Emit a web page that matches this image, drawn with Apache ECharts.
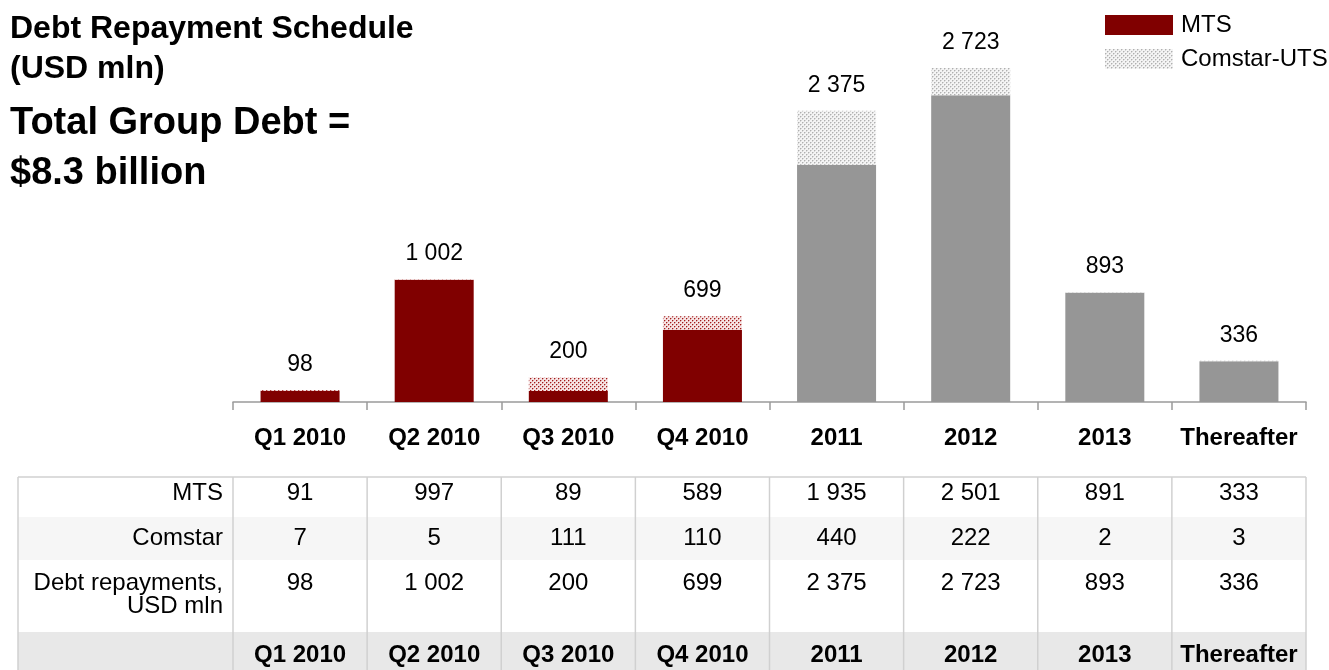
<!DOCTYPE html>
<html>
<head>
<meta charset="utf-8">
<script src="https://cdn.jsdelivr.net/npm/echarts@6/dist/echarts.min.js"></script>
<style>
  html, body { margin: 0; padding: 0; background: #fff; }
  #chart { width: 1329px; height: 670px; }
</style>
</head>
<body>
<div id="chart"></div>
<script>
const categories = ["Q1 2010", "Q2 2010", "Q3 2010", "Q4 2010", "2011", "2012", "2013", "Thereafter"];
const mtsValues = [91, 997, 89, 589, 1935, 2501, 891, 333];
const comstarValues = [7, 5, 111, 110, 440, 222, 2, 3];
const totalValues = [98, 1002, 200, 699, 2375, 2723, 893, 336];

const FONT = 'Arial, "Liberation Sans", sans-serif';
const RED = "#800000";
const GRAY = "#969696";

// dotted fill like the office "5%" pattern
function makeDots(bg, dot, halo) {
  const c = document.createElement("canvas");
  c.width = 4;
  c.height = 4;
  const ctx = c.getContext("2d");
  ctx.fillStyle = bg;
  ctx.fillRect(0, 0, 4, 4);
  ctx.fillStyle = halo;
  ctx.fillRect(1, 0, 1, 1);
  ctx.fillRect(0, 1, 1, 1);
  ctx.fillRect(3, 2, 1, 1);
  ctx.fillRect(2, 3, 1, 1);
  ctx.fillStyle = dot;
  ctx.fillRect(0, 0, 1, 1);
  ctx.fillRect(2, 2, 1, 1);
  return { image: c, repeat: "repeat" };
}
const redDots = makeDots("#f6e4e4", "#a31a1a", "#d9a0a0");
const grayDots = makeDots("#f4f4f4", "#b0b0b0", "#d6d6d6");

const fmt = (n) => String(n).replace(/\B(?=(\d{3})+(?!\d))/g, " ");

const chart = echarts.init(document.getElementById("chart"));

chart.setOption({
  animation: false,
  title: [
    {
      text: "Debt Repayment Schedule\n(USD mln)",
      left: 10,
      top: 9,
      padding: 0,
      textStyle: { fontFamily: FONT, fontSize: 32, fontWeight: "bold", color: "#000", lineHeight: 40 },
    },
    {
      text: "Total Group Debt =\n$8.3 billion",
      left: 10,
      top: 99,
      padding: 0,
      textStyle: { fontFamily: FONT, fontSize: 38, fontWeight: "bold", color: "#000", lineHeight: 50 },
    },
  ],
  legend: {
    orient: "vertical",
    left: 1105,
    top: 13,
    padding: 0,
    itemWidth: 68,
    itemHeight: 20,
    itemGap: 10,
    icon: "rect",
    textStyle: { fontFamily: FONT, fontSize: 24, color: "#000", padding: [0, 0, 0, 3] },
    data: [
      { name: "MTS", itemStyle: { color: RED } },
      { name: "Comstar-UTS", itemStyle: { color: grayDots } },
    ],
  },
  grid: { left: 233, right: 23, top: 34, bottom: 268 },
  xAxis: {
    type: "category",
    data: categories,
    axisLine: { lineStyle: { color: "#9a9a9a", width: 1.5 } },
    axisTick: { show: true, interval: 0, length: 8, lineStyle: { color: "#9a9a9a", width: 1.5 } },
    axisLabel: { interval: 0, fontFamily: FONT, fontSize: 24, fontWeight: "bold", color: "#000", margin: 24 },
  },
  yAxis: { type: "value", min: 0, max: 3000, show: false, splitLine: { show: false } },
  series: [
    {
      name: "MTS",
      type: "bar",
      stack: "debt",
      barWidth: 79,
      data: mtsValues.map((v, i) => ({ value: v, itemStyle: { color: i < 4 ? RED : GRAY } })),
    },
    {
      name: "Comstar-UTS",
      type: "bar",
      stack: "debt",
      barWidth: 79,
      data: comstarValues.map((v, i) => ({ value: v, itemStyle: { color: i < 4 ? redDots : grayDots } })),
      label: {
        show: true,
        position: "top",
        distance: 14,
        fontFamily: FONT,
        fontSize: 23,
        color: "#000",
        formatter: (p) => fmt(totalValues[p.dataIndex]),
      },
    },
  ],
});

// data table under the axis, columns lined up with the categories
function drawTable() {
  const centers = categories.map((c) => chart.convertToPixel({ xAxisIndex: 0 }, c));
  const band = centers[1] - centers[0];
  const firstEdge = centers[0] - band / 2;
  const lastEdge = centers[centers.length - 1] + band / 2;
  const tableLeft = 18;
  const tableTop = 477;
  const tableBottom = 672;
  const labelX = firstEdge - 10;

  const rows = [
    { label: ["MTS"], values: mtsValues.map(fmt), top: 477, h: 40, y: [493], bg: "#ffffff" },
    { label: ["Comstar"], values: comstarValues.map(fmt), top: 517, h: 43, y: [538], bg: "#f6f6f6" },
    { label: ["Debt repayments,", "USD mln"], values: totalValues.map(fmt), top: 560, h: 72, y: [583, 606], bg: "#ffffff" },
    { label: [""], values: categories, top: 632, h: 40, y: [655], bg: "#e8e8e8", bold: true },
  ];

  const els = [];
  rows.forEach((r) => {
    els.push({
      type: "rect",
      shape: { x: tableLeft, y: r.top, width: lastEdge - tableLeft, height: r.h },
      style: { fill: r.bg },
      silent: true,
    });
    r.label.forEach((t, k) => {
      els.push({
        type: "text",
        x: labelX,
        y: r.y[k],
        style: { text: t, fontFamily: FONT, fontSize: 24, fill: "#000", align: "right", verticalAlign: "middle" },
        silent: true,
      });
    });
    r.values.forEach((t, i) => {
      els.push({
        type: "text",
        x: centers[i],
        y: r.y[0],
        style: {
          text: t,
          fontFamily: FONT,
          fontSize: 24,
          fontWeight: r.bold ? "bold" : "normal",
          fill: "#000",
          align: "center",
          verticalAlign: "middle",
        },
        silent: true,
      });
    });
  });

  const lineStyle = { stroke: "#d0d0d0", lineWidth: 1.5 };
  els.push({ type: "line", shape: { x1: tableLeft, y1: tableTop, x2: lastEdge, y2: tableTop }, style: lineStyle, silent: true });
  const edges = [tableLeft].concat(categories.map((c, i) => firstEdge + band * i), [lastEdge]);
  edges.forEach((x) => {
    els.push({ type: "line", shape: { x1: x, y1: tableTop, x2: x, y2: tableBottom }, style: lineStyle, silent: true });
  });

  chart.setOption({ graphic: [{ type: "group", children: els }] });
}
drawTable();
</script>
</body>
</html>
